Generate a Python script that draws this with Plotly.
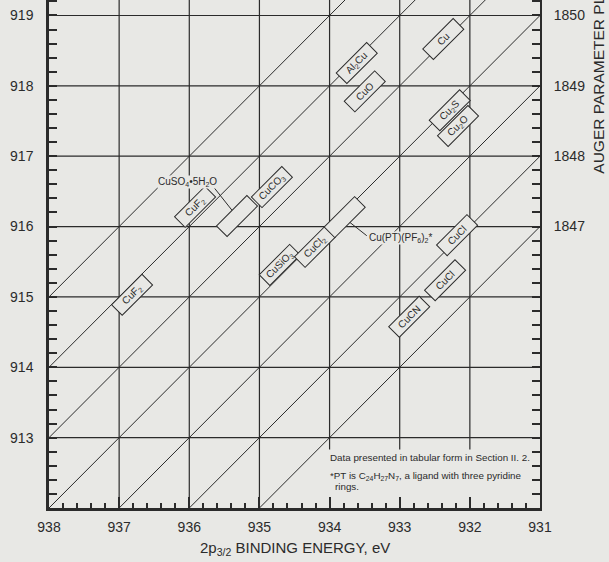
import plotly.graph_objects as go

# ---- data ----
be_ticks = [938, 937, 936, 935, 934, 933, 932, 931]
ke_ticks = [913, 914, 915, 916, 917, 918, 919]
auger_lines = [1847, 1848, 1849, 1850, 1851, 1852, 1853]
auger_labels = [1847, 1848, 1849, 1850]

vgrid_full = [937, 936, 935]
vgrid_short = [934, 933, 932]

box_names = ["Cu", "Al<sub>2</sub>Cu", "CuO", "Cu<sub>2</sub>S", "Cu<sub>2</sub>O", " ",
             "CuCO<sub>3</sub>", "CuF<sub>2</sub>", "CuF<sub>2</sub>", "CuSiO<sub>3</sub>",
             "CuCl<sub>2</sub>", " ", "CuCl", "CuCl", "CuCN"]
box_be = [932.38, 933.61, 933.49, 932.28, 932.17, 935.32, 934.82, 935.92, 936.82,
          934.71, 934.21, 933.78, 932.18, 932.35, 932.87]
box_ke = [918.67, 918.32, 917.92, 917.65, 917.43, 916.15, 916.56, 916.28, 915.03,
          915.45, 915.71, 916.13, 915.88, 915.24, 914.72]

# dotted joins where boxes overlap
join_be = [934.02, 933.97, 934.45]
join_ke_lo = [915.84, 915.84, 915.52]
join_ke_hi = [916.00, 916.00, 915.64]

# free labels with leader lines
cuso4_text = "CuSO<sub>4</sub>•5H<sub>2</sub>O"
cuso4_pos = (936.03, 916.63)
cuso4_leader = ([935.66, 935.31], [916.57, 916.13])
cupt_text = "Cu(PT)(PF<sub>6</sub>)<sub>2</sub>*"
cupt_pos = (933.45, 915.84)
cupt_leader = ([933.75, 933.47], [916.09, 915.87])

note1 = "Data presented in tabular form in Section II. 2."
note2 = "*PT is C<sub>24</sub>H<sub>27</sub>N<sub>7</sub>, a ligand with three pyridine"
note3 = "rings."

KE_MIN, KE_MAX = 912, 919.22
BE_MIN, BE_MAX = 931, 938
SHORT_BOTTOM = 912.83

bg = "#e8e8e5"
ink = "#2b2b2b"
font = "Liberation Sans, Arial, sans-serif"

fig = go.Figure()

# grid lines
gx, gy = [], []
for k in ke_ticks:
    gx += [BE_MAX, BE_MIN, None]
    gy += [k, k, None]
for b in vgrid_full:
    gx += [b, b, None]
    gy += [KE_MIN, KE_MAX, None]
for b in vgrid_short:
    gx += [b, b, None]
    gy += [SHORT_BOTTOM, KE_MAX, None]
fig.add_trace(go.Scatter(x=gx, y=gy, mode="lines", line=dict(color=ink, width=1.2),
                         hoverinfo="skip", showlegend=False))

# constant auger parameter diagonals
dx, dy = [], []
for a in auger_lines:
    b1 = min(BE_MAX, a - KE_MIN)
    b2 = max(BE_MIN, a - KE_MAX)
    dx += [b1, b2, None]
    dy += [a - b1, a - b2, None]
fig.add_trace(go.Scatter(x=dx, y=dy, mode="lines", line=dict(color=ink, width=1),
                         hoverinfo="skip", showlegend=False))

# leader lines
for lx, ly in [cuso4_leader, cupt_leader]:
    fig.add_trace(go.Scatter(x=lx, y=ly, mode="lines", line=dict(color=ink, width=1),
                             hoverinfo="skip", showlegend=False))

# dummy trace for the right axis
fig.add_trace(go.Scatter(x=[BE_MAX], y=[1845], yaxis="y2", mode="markers",
                         marker=dict(opacity=0), hoverinfo="skip", showlegend=False))

ann = []
for name, b, k in zip(box_names, box_be, box_ke):
    ann.append(dict(x=b, y=k, xref="x", yref="y", text=name, showarrow=False,
                    textangle=-45, width=40, height=12, borderpad=1, borderwidth=1,
                    bordercolor=ink, bgcolor=bg,
                    font=dict(family=font, size=10, color=ink)))

ann.append(dict(x=cuso4_pos[0], y=cuso4_pos[1], text=cuso4_text, showarrow=False,
                bgcolor=bg, borderpad=0, font=dict(family=font, size=10, color=ink)))
ann.append(dict(x=cupt_pos[0], y=cupt_pos[1], text=cupt_text, showarrow=False,
                xanchor="left", bgcolor=bg, borderpad=0,
                font=dict(family=font, size=10, color=ink)))

ann.append(dict(x=934.02, y=912.72, text=note1, showarrow=False, xanchor="left",
                font=dict(family=font, size=9.8, color=ink)))
ann.append(dict(x=934.02, y=912.46, text=note2, showarrow=False, xanchor="left",
                font=dict(family=font, size=9.8, color=ink)))
ann.append(dict(x=933.95, y=912.31, text=note3, showarrow=False, xanchor="left",
                font=dict(family=font, size=9.8, color=ink)))

# axis titles
ann.append(dict(x=0.5, y=-0.079, xref="paper", yref="paper", showarrow=False,
                text="2p<sub>3/2</sub> BINDING ENERGY, eV", yanchor="middle",
                font=dict(family=font, size=15, color=ink)))
ann.append(dict(x=1.12, y=0.655, xref="paper", yref="paper", showarrow=False,
                text="AUGER PARAMETER PLUS 1253.6, eV", textangle=-90,
                yanchor="bottom", xanchor="center",
                font=dict(family=font, size=15.5, color=ink)))

fig.update_layout(
    width=609, height=562,
    margin=dict(l=49, r=69, t=0, b=54),
    paper_bgcolor=bg, plot_bgcolor=bg,
    showlegend=False,
    annotations=ann,
    xaxis=dict(range=[BE_MAX, BE_MIN], tickvals=be_ticks, showgrid=False, zeroline=False,
               showline=True, linecolor=ink, linewidth=2.5, ticks="inside", ticklen=11,
               tickwidth=1.5, tickcolor=ink, ticklabelstandoff=4,
               tickfont=dict(family=font, size=14, color=ink),
               minor=dict(dtick=0.2, tick0=931, ticks="inside", ticklen=5,
                          tickwidth=1.5, tickcolor=ink)),
    yaxis=dict(range=[KE_MIN, KE_MAX], tickvals=ke_ticks, showgrid=False, zeroline=False,
               showline=True, linecolor=ink, linewidth=2.5, ticks="inside", ticklen=8,
               tickwidth=1.5, tickcolor=ink, ticklabelstandoff=10,
               tickfont=dict(family=font, size=14, color=ink),
               minor=dict(dtick=0.2, tick0=912, ticks="inside", ticklen=8,
                          tickwidth=1.5, tickcolor=ink)),
    yaxis2=dict(range=[KE_MIN + BE_MIN, KE_MAX + BE_MIN], overlaying="y", side="right",
                tickvals=auger_labels, showgrid=False, zeroline=False,
                showline=True, linecolor=ink, linewidth=2, ticks="inside", ticklen=8,
                tickwidth=1.5, tickcolor=ink, ticklabelstandoff=9,
                tickfont=dict(family=font, size=14, color=ink),
                minor=dict(dtick=0.2, tick0=1843, ticks="inside", ticklen=8,
                           tickwidth=1.5, tickcolor=ink)),
)

# dotted joins as shapes so they sit above the box annotations
for i in range(len(join_be)):
    fig.add_shape(type="line", x0=join_be[i], x1=join_be[i], y0=join_ke_lo[i],
                  y1=join_ke_hi[i], xref="x", yref="y", layer="above",
                  line=dict(color=ink, width=1.2, dash="dot"))

# the page's default body margin would shift the figure by 8px
fig.write_html("out.html", config={"displayModeBar": False},
               post_script="document.body.style.margin='0';"
                           "document.body.style.overflow='hidden';")
